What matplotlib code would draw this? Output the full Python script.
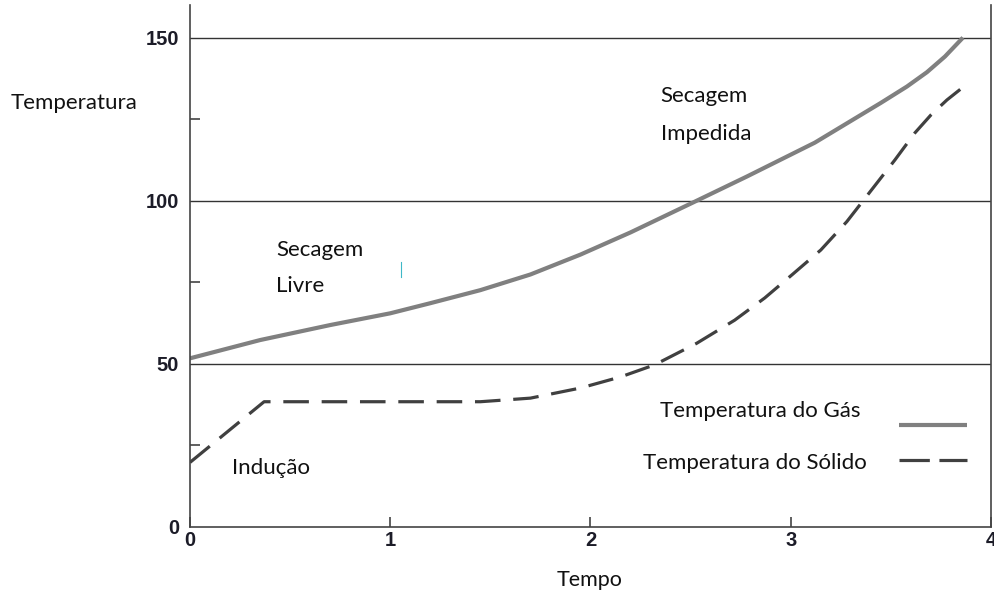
import matplotlib
matplotlib.use('Agg')
import matplotlib.pyplot as plt

# dados
tempo_gas = [0.0, 0.35, 0.7, 1.0, 1.2, 1.45, 1.7, 1.95, 2.2, 2.52, 2.78, 3.12, 3.45, 3.58, 3.68, 3.77, 3.86]
temp_gas = [51.7, 57.3, 61.9, 65.5, 68.6, 72.6, 77.4, 83.5, 90.3, 99.7, 107.4, 117.8, 130.0, 135.0, 139.4, 144.2, 150.0]

tempo_sol = [0.0, 0.37, 1.0, 1.45, 1.7, 1.95, 2.15, 2.32, 2.53, 2.72, 2.87, 3.01, 3.15, 3.28, 3.36, 3.52, 3.62, 3.70, 3.78, 3.86]
temp_sol = [19.8, 38.4, 38.4, 38.4, 39.5, 42.6, 46.0, 49.7, 56.3, 63.4, 70.2, 77.5, 84.9, 93.6, 99.9, 112.5, 120.8, 126.3, 130.9, 134.8]

yticks = [0, 50, 100, 150]
yminor = [25, 75, 125]
xticks = [0, 1, 2, 3, 4]

fonte = 'Lato'
cor_tick = '#1c1c28'
cor_gas = '#808080'
cor_sol = '#404040'

fig = plt.figure(figsize=(9.95, 5.95), dpi=100)
ax = fig.add_axes([190 / 995, 1 - 527 / 595, 801 / 995, 522 / 595])

ax.plot(tempo_gas, temp_gas, color=cor_gas, lw=3.0, solid_capstyle='butt', solid_joinstyle='round')
ax.plot(tempo_sol, temp_sol, color=cor_sol, lw=2.3, dashes=(8, 4), dash_joinstyle='round')

for v in [50, 100, 150]:
    ax.axhline(v, color='#333333', lw=1.0, zorder=0)

ax.set_xlim(0, 4)
ax.set_ylim(0, 160)
ax.spines['top'].set_visible(False)
for s in ['left', 'right', 'bottom']:
    ax.spines[s].set_color('#444444')
    ax.spines[s].set_linewidth(1.2)

ax.set_xticks(xticks)
ax.set_yticks(yticks)
ax.set_yticks(yminor, minor=True)
ax.tick_params(axis='both', which='major', direction='in', length=7, width=1.2,
               color='#444444', labelsize=14.5, labelcolor=cor_tick, pad=3)
ax.tick_params(axis='y', which='major', length=0, pad=8)
ax.tick_params(axis='y', which='minor', direction='in', length=7, width=1.2, color='#444444')
for lab in ax.get_xticklabels() + ax.get_yticklabels():
    lab.set_fontweight('bold')
    lab.set_family('Liberation Sans')

# textos
kw = dict(fontsize=16, family=fonte, color='#111111')
fig.text(11 / 995, 1 - 103 / 595, 'Temperatura', ha='left', va='center', **kw)
fig.text(590 / 995, 1 - 580 / 595, 'Tempo', ha='center', va='center', fontsize=15.5,
         family=fonte, color='#111111')
ax.text(2.35, 132, 'Secagem', ha='left', va='center', **kw)
ax.text(2.35, 120.5, 'Impedida', ha='left', va='center', **kw)
ax.text(0.43, 85, 'Secagem', ha='left', va='center', **kw)
ax.text(0.43, 74, 'Livre', ha='left', va='center', **kw)
ax.text(0.21, 18, 'Indução', ha='left', va='center', **kw)

# legenda desenhada à mão
ax.text(2.85, 35.5, 'Temperatura do Gás', ha='center', va='center', **kw)
ax.text(2.82, 19.5, 'Temperatura do Sólido', ha='center', va='center', **kw)
ax.plot([3.54, 3.88], [31.3, 31.3], color=cor_gas, lw=3.0, solid_capstyle='butt')
ax.plot([3.54, 3.88], [20.5, 20.5], color=cor_sol, lw=2.3, dashes=(9.5, 3))

# pequeno traço no meio do gráfico
ax.plot([1.055, 1.055], [76.7, 81.3], color='#3fb8c8', lw=0.8)

fig.savefig('out.png', dpi=100)
